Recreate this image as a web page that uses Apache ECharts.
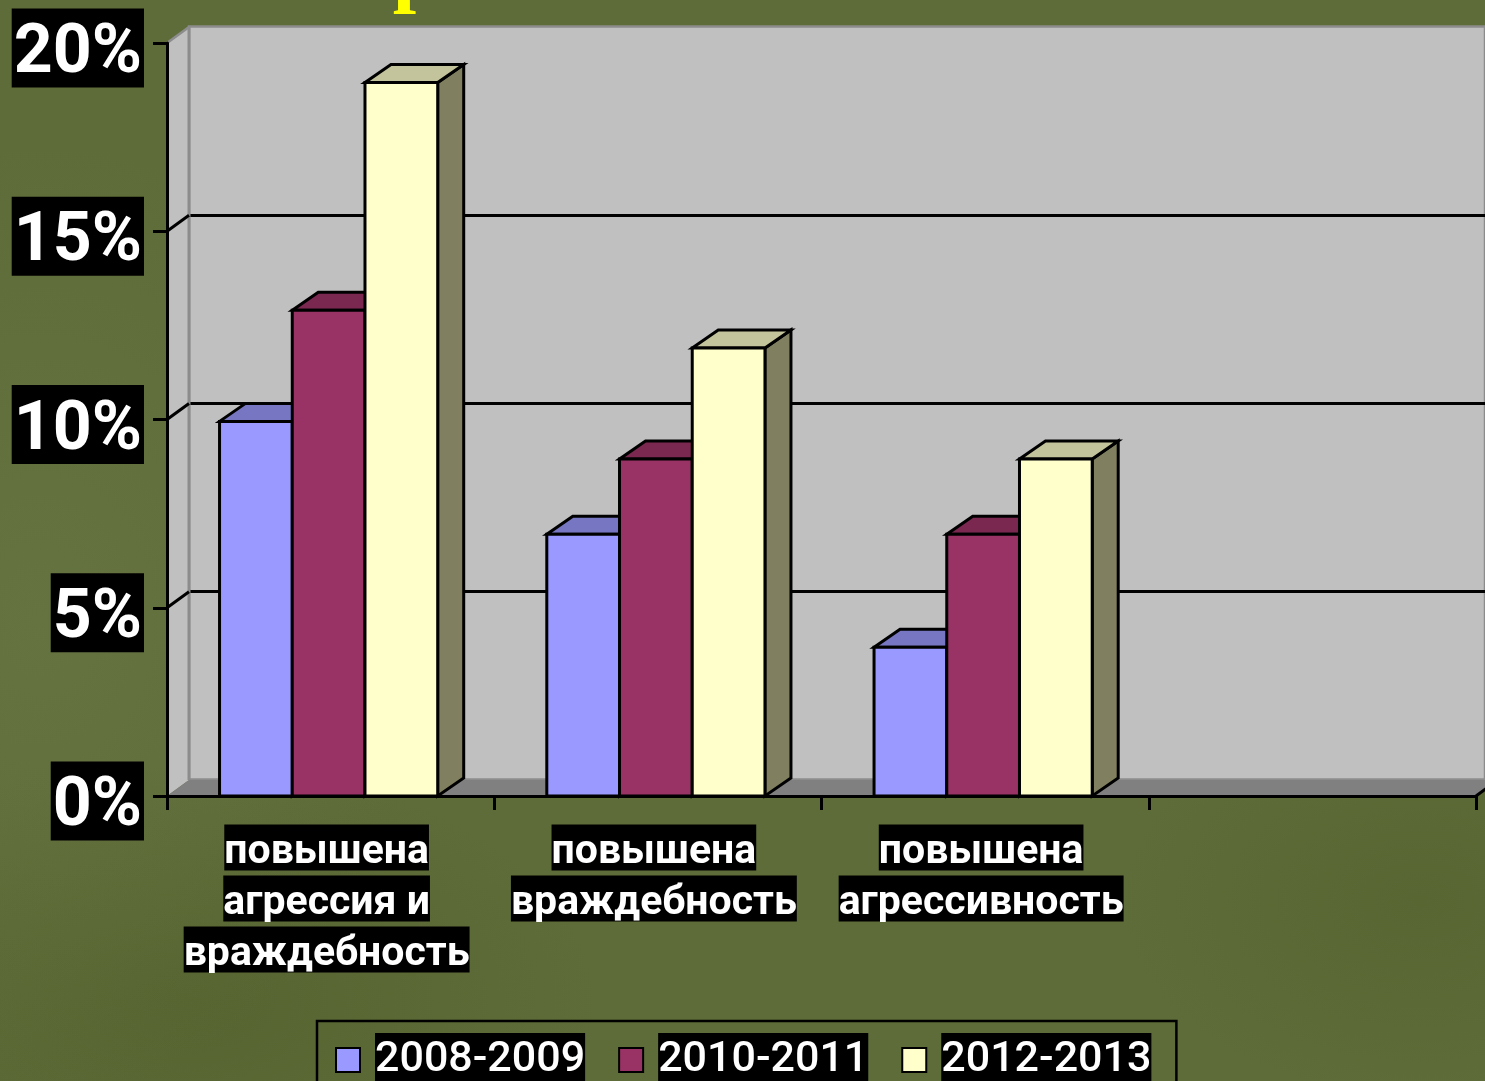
<!DOCTYPE html>
<html>
<head>
<meta charset="utf-8">
<title>chart</title>
<script src="https://cdn.jsdelivr.net/npm/echarts@6/dist/echarts.min.js"></script>
<style>
    html, body { margin: 0; padding: 0; overflow: hidden; }
    #main {
        width: 1485px;
        height: 1081px;
        background:
            radial-gradient(ellipse 380px 480px at 40px 620px, rgba(112, 128, 78, 0.35), rgba(112, 128, 78, 0)),
            radial-gradient(ellipse 420px 240px at 180px 1000px, rgba(74, 88, 36, 0.4), rgba(74, 88, 36, 0)),
            radial-gradient(ellipse 300px 200px at 1420px 900px, rgba(74, 88, 36, 0.3), rgba(74, 88, 36, 0)),
            #5e6c39;
    }
</style>
</head>
<body>
<div id="main"></div>
<script>
    var categories = ['повышена\nагрессия и\nвраждебность', 'повышена\nвраждебность', 'повышена\nагрессивность', ''];
    var years = ['2008-2009', '2010-2011', '2012-2013'];
    var values2008 = [9.95, 6.95, 3.95];
    var values2010 = [12.9, 8.95, 6.95];
    var values2012 = [18.95, 11.9, 8.95];
    var yTicks = [0, 5, 10, 15, 20];

    var frontColors = ['#9999ff', '#993366', '#ffffcc'];
    var topColors = ['#7676c2', '#7a2850', '#c4c49c'];
    var sideColors = ['#7272b8', '#6e2449', '#808060'];

    var depthX = 26, depthY = -18;   // глубина столбца
    var wallX = 22, wallY = -16;     // глубина стен

    function lineStyle() {
        return { stroke: '#000', lineWidth: 3, lineJoin: 'miter' };
    }

    function renderBar(s) {
        return function (params, api) {
            var top = api.coord([api.value(0), api.value(1)]);
            var base = api.coord([api.value(0), 0]);
            var band = api.size([1, 0])[0];
            var w = band / 4.5;
            var x = top[0] - 2 + (s - 1.5) * w;
            var y = top[1];
            var b = base[1];
            return {
                type: 'group',
                children: [
                    {
                        type: 'polygon',
                        shape: { points: [[x + w, y], [x + w + depthX, y + depthY], [x + w + depthX, b + depthY], [x + w, b]] },
                        style: Object.assign({ fill: sideColors[s] }, lineStyle())
                    },
                    {
                        type: 'polygon',
                        shape: { points: [[x, y], [x + depthX, y + depthY], [x + w + depthX, y + depthY], [x + w, y]] },
                        style: Object.assign({ fill: topColors[s] }, lineStyle())
                    },
                    {
                        type: 'rect',
                        shape: { x: x, y: y, width: w, height: b - y },
                        style: Object.assign({ fill: frontColors[s] }, lineStyle())
                    }
                ]
            };
        };
    }

    function barSeries(s, values) {
        return {
            name: years[s],
            type: 'custom',
            xAxisIndex: 1,
            yAxisIndex: 1,
            z: 3 + s,
            clip: false,
            itemStyle: { color: frontColors[s], borderColor: '#000', borderWidth: 3 },
            encode: { x: 0, y: 1 },
            renderItem: renderBar(s),
            data: values.map(function (v, i) { return [i, v]; })
        };
    }

    // левая стена и пол
    function renderWalls(params, api) {
        var band = api.size([1, 0])[0];
        var first = api.coord([0, 0]);
        var last = api.coord([categories.length - 1, 0]);
        var up = api.coord([0, yTicks[yTicks.length - 1]]);
        var x0 = first[0] - band / 2;
        var x1 = last[0] + band / 2;
        var b = first[1];
        return {
            type: 'group',
            children: [
                {
                    type: 'polygon',
                    shape: { points: [[x0, up[1]], [x0 + wallX, up[1] + wallY], [x0 + wallX, b + wallY], [x0, b]] },
                    style: { fill: '#c0c0c0' }
                },
                {
                    type: 'line',
                    shape: { x1: x0, y1: up[1], x2: x0 + wallX, y2: up[1] + wallY },
                    style: { stroke: '#8c8c8c', lineWidth: 2.5 }
                },
                {
                    type: 'line',
                    shape: { x1: x0 + wallX, y1: up[1] + wallY, x2: x0 + wallX, y2: b + wallY },
                    style: { stroke: '#8c8c8c', lineWidth: 3 }
                },
                {
                    type: 'polygon',
                    shape: { points: [[x0, b], [x0 + wallX, b + wallY], [x1 + wallX, b + wallY], [x1, b]] },
                    style: { fill: '#808080' }
                },
                {
                    type: 'line',
                    shape: { x1: x1, y1: b, x2: x1 + wallX, y2: b + wallY },
                    style: lineStyle()
                }
            ]
        };
    }

    // линии сетки на левой стене
    function renderDepthTick(params, api) {
        var band = api.size([1, 0])[0];
        var p = api.coord([0, api.value(1)]);
        var x0 = p[0] - band / 2;
        return {
            type: 'line',
            shape: { x1: x0, y1: p[1], x2: x0 + wallX, y2: p[1] + wallY },
            style: lineStyle()
        };
    }

    function categoryLabel(value) {
        if (!value) return '';
        return value.split('\n').map(function (line) { return '{l|' + line + '}'; }).join('\n');
    }

    var titleFont = 'bold 84px "Liberation Serif"';

    var myChart = echarts.init(document.getElementById('main'));
    myChart.setOption({
        animation: false,
        textStyle: { fontFamily: 'Roboto' },
        graphic: [
            // остатки обрезанного заголовка
            { type: 'text', x: 416, y: 16, style: { text: 'р', fill: '#ffff00', font: titleFont, align: 'center', verticalAlign: 'bottom' } },
            { type: 'text', x: 587, y: 5, style: { text: 'д', fill: '#ffff00', font: titleFont, align: 'center', verticalAlign: 'bottom' } },
            { type: 'text', x: 998, y: 5, style: { text: 'д', fill: '#ffff00', font: titleFont, align: 'center', verticalAlign: 'bottom' } }
        ],
        legend: {
            data: years,
            left: 317,
            top: 1021,
            padding: [12, 25, 12, 18],
            borderColor: '#000',
            borderWidth: 2.5,
            itemWidth: 24,
            itemHeight: 24,
            itemGap: 33,
            icon: 'rect',
            textStyle: {
                color: '#fff',
                rich: {
                    g: { width: 10, fontSize: 43 },
                    t: { color: '#fff', fontFamily: 'Roboto', fontWeight: 500, fontSize: 43, backgroundColor: '#000', height: 54, lineHeight: 54 }
                }
            },
            formatter: function (name) { return '{g| }{t|' + name + '}'; }
        },
        grid: [
            // задняя стена
            { left: 189, top: 26.5, width: 1309, height: 753, show: true, backgroundColor: '#c0c0c0', borderColor: '#8c8c8c', borderWidth: 2.5 },
            // основная плоскость
            { left: 167, top: 43, width: 1309, height: 753 },
            // подписи осей
            { left: 163, top: 48, width: 1309, height: 753 }
        ],
        xAxis: [
            { gridIndex: 0, type: 'category', data: categories, show: false },
            {
                gridIndex: 1,
                type: 'category',
                data: categories,
                z: 8,
                axisLine: { lineStyle: { color: '#000', width: 3 } },
                axisTick: { show: true, length: 14, lineStyle: { color: '#000', width: 3 } },
                axisLabel: { show: false }
            },
            {
                gridIndex: 2,
                type: 'category',
                data: categories,
                axisLine: { show: false },
                axisTick: { show: false },
                axisLabel: {
                    interval: 0,
                    margin: 21,
                    color: '#fff',
                    formatter: categoryLabel,
                    rich: {
                        l: { color: '#fff', fontFamily: 'Roboto', fontWeight: 700, fontSize: 41, backgroundColor: '#000', height: 36, lineHeight: 51, padding: [10, 0, 0, 0] }
                    }
                }
            }
        ],
        yAxis: [
            {
                gridIndex: 0, type: 'value', min: 0, max: 20, interval: 5,
                axisLine: { show: false }, axisTick: { show: false }, axisLabel: { show: false },
                splitLine: { show: true, showMinLine: false, showMaxLine: false, lineStyle: { color: '#000', width: 3 } }
            },
            {
                gridIndex: 1, type: 'value', min: 0, max: 20, interval: 5,
                z: 8,
                axisLine: { show: true, lineStyle: { color: '#000', width: 3 } },
                axisTick: { show: true, length: 14, lineStyle: { color: '#000', width: 3 } },
                axisLabel: { show: false },
                splitLine: { show: false }
            },
            {
                gridIndex: 2, type: 'value', min: 0, max: 20, interval: 5,
                axisLine: { show: false },
                axisTick: { show: false },
                splitLine: { show: false },
                axisLabel: {
                    margin: 19,
                    formatter: function (value) { return '{v|' + value + '%}'; },
                    rich: {
                        v: { color: '#fff', fontFamily: 'Roboto', fontWeight: 700, fontSize: 68, backgroundColor: '#000', height: 65, lineHeight: 79, padding: [14, 2, 0, 2] }
                    }
                }
            }
        ],
        series: [
            {
                name: 'walls',
                type: 'custom',
                xAxisIndex: 1,
                yAxisIndex: 1,
                z: 1,
                clip: false,
                silent: true,
                encode: { x: 0, y: 1 },
                renderItem: renderWalls,
                data: [[0, 0]]
            },
            {
                name: 'depth ticks',
                type: 'custom',
                xAxisIndex: 1,
                yAxisIndex: 1,
                z: 2,
                clip: false,
                silent: true,
                encode: { x: 0, y: 1 },
                renderItem: renderDepthTick,
                data: yTicks.slice(1, 4).map(function (v) { return [0, v]; })
            },
            barSeries(0, values2008),
            barSeries(1, values2010),
            barSeries(2, values2012)
        ]
    });
</script>
</body>
</html>
